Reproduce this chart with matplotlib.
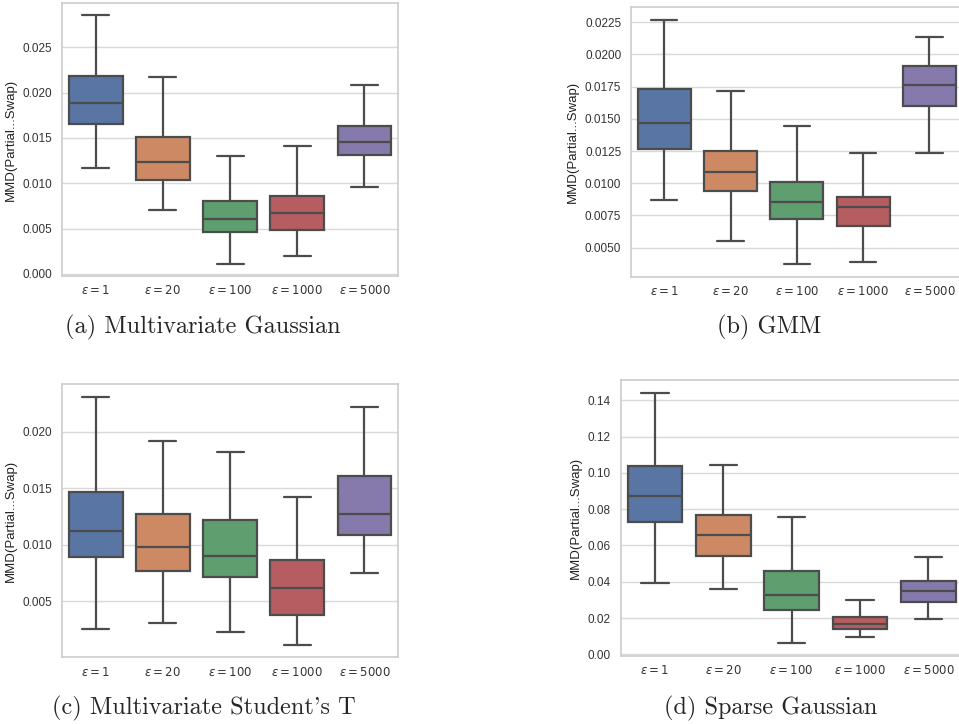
import matplotlib
matplotlib.use("Agg")
import matplotlib.pyplot as plt
import seaborn as sns

sns.set_theme(style="whitegrid")
plt.rcParams['font.family'] = ['Liberation Sans', 'DejaVu Sans']
plt.rcParams['mathtext.fontset'] = 'dejavusans'

labels = [r'$\varepsilon = 1$', r'$\varepsilon = 20$', r'$\varepsilon = 100$',
          r'$\varepsilon = 1000$', r'$\varepsilon = 5000$']

# box stats per panel: whisker low, Q1, median, Q3, whisker high
gauss_lo = [0.01165, 0.00702, 0.00114, 0.00202, 0.00956]
gauss_q1 = [0.01654, 0.01040, 0.00463, 0.00489, 0.01313]
gauss_med = [0.01882, 0.01232, 0.00610, 0.00673, 0.01460]
gauss_q3 = [0.02184, 0.01507, 0.00809, 0.00864, 0.01632]
gauss_hi = [0.02853, 0.02176, 0.01305, 0.01408, 0.02088]

gmm_lo = [0.00868, 0.00554, 0.00370, 0.00389, 0.01231]
gmm_q1 = [0.01267, 0.00938, 0.00720, 0.00669, 0.01597]
gmm_med = [0.01467, 0.01091, 0.00858, 0.00814, 0.01760]
gmm_q3 = [0.01734, 0.01252, 0.01013, 0.00897, 0.01908]
gmm_hi = [0.02270, 0.01719, 0.01441, 0.01231, 0.02133]

st_lo = [0.00258, 0.00311, 0.00232, 0.00114, 0.00753]
st_q1 = [0.00895, 0.00768, 0.00718, 0.00382, 0.01089]
st_med = [0.01122, 0.00983, 0.00904, 0.00615, 0.01272]
st_q3 = [0.01467, 0.01275, 0.01222, 0.00865, 0.01605]
st_hi = [0.02309, 0.01917, 0.01820, 0.01422, 0.02218]

sp_lo = [0.0391, 0.0361, 0.0062, 0.0095, 0.0193]
sp_q1 = [0.0732, 0.0544, 0.0246, 0.0141, 0.0290]
sp_med = [0.0874, 0.0657, 0.0327, 0.0170, 0.0352]
sp_q3 = [0.1037, 0.0767, 0.0460, 0.0206, 0.0402]
sp_hi = [0.1442, 0.1044, 0.0757, 0.0301, 0.0537]

captions = ['(a) Multivariate Gaussian', '(b) GMM',
            "(c) Multivariate Student's T", '(d) Sparse Gaussian']

colors = sns.color_palette('deep', 5, desat=0.75)

fig = plt.figure(figsize=(9.59, 7.24), dpi=100)

rects = [[0.0647, 0.6188, 0.3504, 0.3771],
         [0.658, 0.6178, 0.3458, 0.3721],
         [0.0647, 0.0921, 0.3504, 0.3771],
         [0.6472, 0.0943, 0.3566, 0.3808]]
panels = [(gauss_lo, gauss_q1, gauss_med, gauss_q3, gauss_hi),
          (gmm_lo, gmm_q1, gmm_med, gmm_q3, gmm_hi),
          (st_lo, st_q1, st_med, st_q3, st_hi),
          (sp_lo, sp_q1, sp_med, sp_q3, sp_hi)]

for rect, (lo, q1, med, q3, hi) in zip(rects, panels):
    ax = fig.add_axes(rect)
    stats = []
    for i in range(5):
        stats.append({'whislo': lo[i], 'q1': q1[i], 'med': med[i],
                      'q3': q3[i], 'whishi': hi[i], 'fliers': []})
    gray = '#4c4c4c'
    bp = ax.bxp(stats, positions=range(5), widths=0.8, patch_artist=True,
                showfliers=False,
                boxprops=dict(edgecolor=gray, linewidth=1.6),
                medianprops=dict(color=gray, linewidth=1.6),
                whiskerprops=dict(color=gray, linewidth=1.6),
                capprops=dict(color=gray, linewidth=1.6))
    for patch, c in zip(bp['boxes'], colors):
        patch.set_facecolor(c)
    ax.set_xlim(-0.5, 4.5)
    ax.set_xticks(range(5))
    ax.set_xticklabels(labels)
    ax.xaxis.grid(False)
    ax.yaxis.grid(True, color='.85', linewidth=1)
    ax.set_axisbelow(True)
    for s in ax.spines.values():
        s.set_color('.8')
        s.set_linewidth(1.2)
    ax.tick_params(axis='y', length=0, labelsize=8.5, pad=7, colors='#333333')
    ax.tick_params(axis='x', length=0, labelsize=8.5, pad=6, colors='#333333')
    ax.set_ylabel('MMD(Partial...Swap)', fontsize=9.5, color='#222222', labelpad=4)

cap_pos = [(203, 327), (769, 327), (204, 708), (771, 708)]
for (x, y), t in zip(cap_pos, captions):
    fig.text(x / 959, 1 - y / 724, t, ha='center', va='center',
             fontsize=17.5, family='cmr10')

fig.savefig('out.png', dpi=100)
